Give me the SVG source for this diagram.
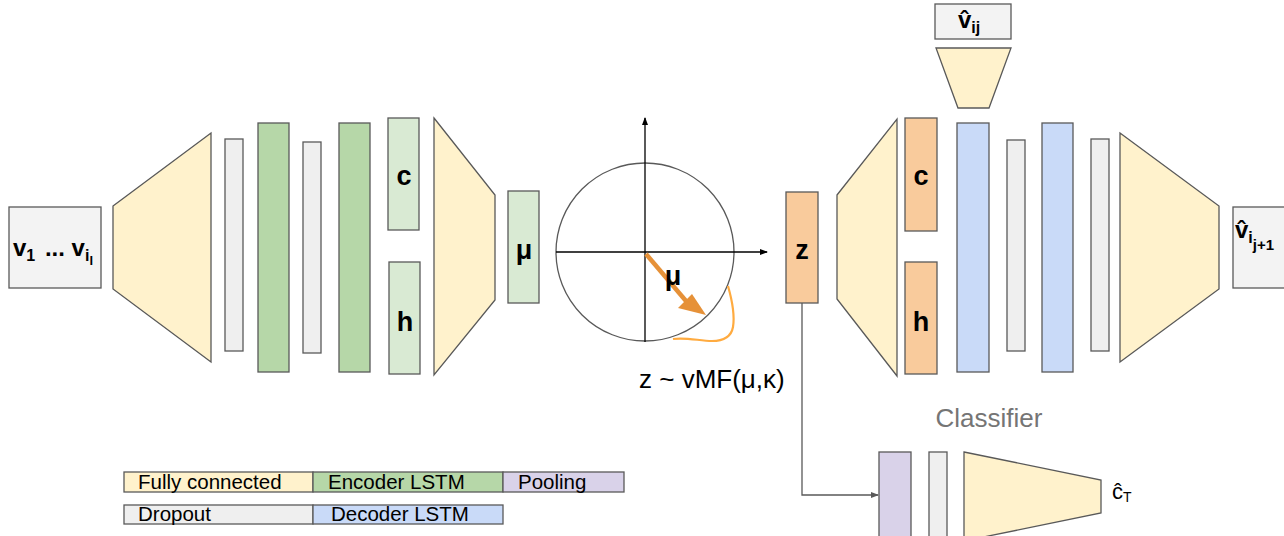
<svg xmlns="http://www.w3.org/2000/svg" width="1284" height="536" viewBox="0 0 1284 536">
<style>
  .s { stroke: #595959; stroke-width: 1.3; }
  .fc { fill: #fff2cc; }
  .drop { fill: #efefef; }
  .enc { fill: #b6d7a8; }
  .encl { fill: #d9ead3; }
  .org { fill: #f9cb9c; }
  .dec { fill: #c9daf8; }
  .pool { fill: #d9d2e9; }
  .io { fill: #f3f3f3; }
  text { font-family: "Liberation Sans", Arial, sans-serif; fill: #000; }
  .big { font-size: 27px; font-weight: bold; text-anchor: middle; }
  .lab { font-size: 24px; font-weight: bold; }
  .leg { font-size: 20.5px; }
</style>
<defs>
  <marker id="ah" markerWidth="8" markerHeight="8" refX="7" refY="4" orient="auto" markerUnits="userSpaceOnUse">
    <path d="M0,1 L8,4 L0,7 Z" fill="#000"/>
  </marker>
  <marker id="ahg" markerWidth="8" markerHeight="8" refX="7" refY="4" orient="auto" markerUnits="userSpaceOnUse">
    <path d="M0,1 L8,4 L0,7 Z" fill="#595959"/>
  </marker>
</defs>

<!-- Encoder -->
<g id="input">
  <rect class="io s" x="9" y="207" width="92" height="81"/>
  <text class="lab" x="13" y="256">v<tspan font-size="16" dy="5">1</tspan><tspan dy="-5" dx="3"> ... v</tspan><tspan font-size="16" dy="5">i</tspan><tspan font-size="13" dy="4">l</tspan></text>
</g>
<g id="fc1"><polygon class="fc s" points="113,206 211,133 211,362 113,289"/></g>
<g id="drop1"><rect class="drop s" x="225" y="139" width="18" height="212"/></g>
<g id="enc1"><rect class="enc s" x="258" y="123" width="31" height="249"/></g>
<g id="drop2"><rect class="drop s" x="303" y="142" width="18" height="211"/></g>
<g id="enc2"><rect class="enc s" x="339" y="123" width="31" height="249"/></g>
<g id="enc_c"><rect class="encl s" x="388" y="118" width="31" height="112"/><text class="big" x="404" y="185">c</text></g>
<g id="enc_h"><rect class="encl s" x="389" y="262" width="31" height="112"/><text class="big" x="405" y="331">h</text></g>
<g id="fc2"><polygon class="fc s" points="434,118 495,195 495,300 434,375"/></g>
<g id="mu"><rect class="encl s" x="508" y="191" width="31" height="112"/><text class="big" x="524" y="259">μ</text></g>

<!-- vMF sphere -->
<g id="sphere">
  <circle cx="645" cy="252" r="89" fill="none" stroke="#595959" stroke-width="1.3"/>
  <line x1="645" y1="342" x2="645" y2="118" stroke="#000" stroke-width="1.3" marker-end="url(#ah)"/>
  <line x1="556" y1="252" x2="767" y2="252" stroke="#000" stroke-width="1.3" marker-end="url(#ah)"/>
  <path d="M728,286 C732,300 735,315 733,327 C731,338 722,341 712,341 C700,341 686,337 673,339" fill="none" stroke="#ffab40" stroke-width="2.2"/>
  <line x1="646" y1="254" x2="686" y2="301" stroke="#e69138" stroke-width="4.5"/>
  <polygon points="706,315 678,308 692,294" fill="#e69138"/>
  <text class="big" x="673" y="285">μ</text>
  <text x="639" y="388" font-size="26">z ~ vMF(μ,κ)</text>
</g>

<!-- Decoder -->
<g id="z"><rect class="org s" x="786" y="192" width="32" height="111"/><text class="big" x="802" y="259">z</text></g>
<g id="fc3"><polygon class="fc s" points="837,195 897,119 897,376 837,299"/></g>
<g id="dec_c"><rect class="org s" x="905" y="118" width="32" height="113"/><text class="big" x="921" y="185">c</text></g>
<g id="dec_h"><rect class="org s" x="905" y="262" width="32" height="112"/><text class="big" x="921" y="331">h</text></g>
<g id="dec1"><rect class="dec s" x="957" y="123" width="32" height="249"/></g>
<g id="drop3"><rect class="drop s" x="1007" y="140" width="18" height="211"/></g>
<g id="dec2"><rect class="dec s" x="1042" y="123" width="31" height="249"/></g>
<g id="drop4"><rect class="drop s" x="1091" y="139" width="18" height="212"/></g>
<g id="fc4"><polygon class="fc s" points="1120,133 1219,206 1219,289 1120,362"/></g>
<g id="output">
  <rect class="io s" x="1233" y="207" width="60" height="81"/>
  <text class="lab" x="1235" y="238">v̂<tspan font-size="16" dy="5">i</tspan><tspan font-size="15" dy="7">j+1</tspan></text>
</g>

<!-- Top output head -->
<g id="vij">
  <rect class="io s" x="935" y="4" width="76" height="35"/>
  <text class="lab" x="958" y="28">v̂<tspan font-size="16" dy="5">ij</tspan></text>
</g>
<g id="fc_top"><polygon class="fc s" points="936,48 1011,48 989,108 958,108"/></g>

<!-- Classifier -->
<g id="classifier_label"><text x="989" y="427" font-size="26" text-anchor="middle" style="fill:#757575">Classifier</text></g>
<g id="pool"><rect class="pool s" x="879" y="452" width="32" height="90"/></g>
<g id="drop5"><rect class="drop s" x="929" y="452" width="18" height="90"/></g>
<g id="fc5"><polygon class="fc s" points="964,452 1101,480 1101,513 964,541"/></g>
<g id="c_T"><text x="1112" y="499" font-size="22">ĉ<tspan font-size="14" dy="3">T</tspan></text></g>

<!-- Connectors -->
<g id="connectors">
  <polyline points="802,303 802,495 878,495" fill="none" stroke="#595959" stroke-width="1.3" marker-end="url(#ahg)"/>
</g>

<!-- Legend -->
<g id="legend">
  <rect class="fc s" x="124" y="472" width="189" height="20"/>
  <rect class="enc s" x="313" y="472" width="190" height="20"/>
  <rect class="pool s" x="503" y="472" width="121" height="20"/>
  <rect class="drop s" x="124" y="505" width="189" height="19"/>
  <rect class="dec s" x="313" y="505" width="190" height="19"/>
  <text class="leg" x="138" y="489">Fully connected</text>
  <text class="leg" x="328" y="489">Encoder LSTM</text>
  <text class="leg" x="518" y="489">Pooling</text>
  <text class="leg" x="138" y="521">Dropout</text>
  <text class="leg" x="331" y="521">Decoder LSTM</text>
</g>
</svg>
